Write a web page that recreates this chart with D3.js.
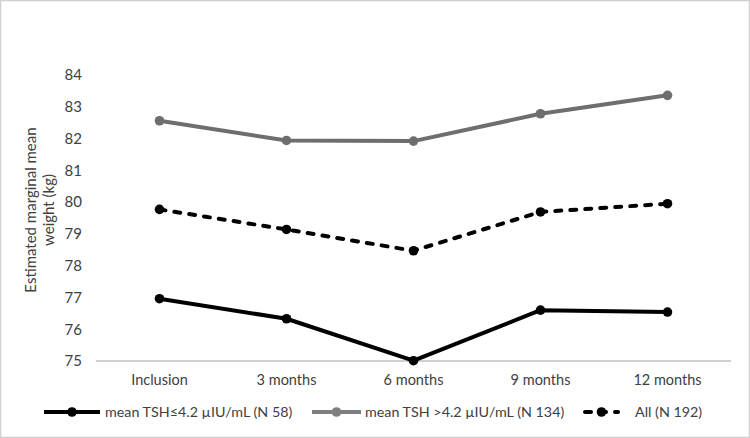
<!DOCTYPE html>
<html><head><meta charset="utf-8">
<script src="https://cdn.jsdelivr.net/npm/d3@7"></script>
<style>body{margin:0;background:#fff}text{font-family:Lato,"Open Sans",sans-serif}</style>
</head><body><svg id="c" width="750" height="438"></svg>
<script>
const categories = ["Inclusion","3 months","6 months","9 months","12 months"];
const lowTSH = [76.96, 76.33, 75.01, 76.60, 76.54];
const highTSH = [82.56, 81.94, 81.92, 82.78, 83.36];
const allPatients = [79.77, 79.14, 78.47, 79.69, 79.95];
const yTicks = [75,76,77,78,79,80,81,82,83,84];
const seriesNames = ["mean TSH≤4.2 µIU/mL (N 58)","mean TSH >4.2 µIU/mL (N 134)","All (N 192)"];

const svg = d3.select("#c");
svg.append("rect").attr("x",0.5).attr("y",0.5).attr("width",749).attr("height",437)
  .attr("fill","#fff").attr("stroke","#d0d0d0").attr("stroke-width",1.5);

const x = d3.scaleBand().domain(categories).range([96,731]);
const y = d3.scaleLinear().domain([75,84]).range([361,75]);

svg.append("line").attr("x1",96).attr("x2",731).attr("y1",y(75)).attr("y2",y(75))
  .attr("stroke","#bfbfbf").attr("stroke-width",1.3);

const yAxis = svg.append("g").attr("transform","translate(88,0)")
  .call(d3.axisLeft(y).tickValues(yTicks).tickSize(0).tickPadding(6).tickFormat(d3.format("d")));
yAxis.select(".domain").remove();
yAxis.selectAll("text").attr("font-size",15).attr("fill","#404040").attr("font-family","Lato, sans-serif");

const xAxis = svg.append("g").attr("transform","translate(0,"+y(75)+")")
  .call(d3.axisBottom(x).tickSize(0).tickPadding(14));
xAxis.select(".domain").remove();
xAxis.selectAll("text").attr("font-size",14.5).attr("fill","#404040").attr("font-family","Lato, sans-serif");

const title = svg.append("text").attr("transform","translate(36,210) rotate(-90)")
  .attr("text-anchor","middle").attr("font-size",15).attr("fill","#404040");
title.append("tspan").attr("x",0).attr("dy",0).text("Estimated marginal mean");
title.append("tspan").attr("x",0).attr("dy",18).text("weight (kg)");

const series = [
  {name:seriesNames[0], vals:lowTSH, color:"#000000", dash:null},
  {name:seriesNames[1], vals:highTSH, color:"#6e6e6e", dash:null},
  {name:seriesNames[2], vals:allPatients, color:"#000000", dash:"6,9"}
];
const line = d3.line().x((d,i)=>x(categories[i])+x.bandwidth()/2).y(d=>y(d));
series.forEach(s=>{
  svg.append("path").datum(s.vals).attr("d",line).attr("fill","none")
    .attr("stroke",s.color).attr("stroke-width",4)
    .attr("stroke-linecap",s.dash?"round":"butt").attr("stroke-linejoin","round")
    .attr("stroke-dasharray",s.dash);
  svg.selectAll(null).data(s.vals).enter().append("circle")
    .attr("cx",(d,i)=>x(categories[i])+x.bandwidth()/2).attr("cy",d=>y(d))
    .attr("r",4.8).attr("fill",s.color);
});

const leg = [
  {x1:44,x2:100,tx:105, s:series[0]},
  {x1:312,x2:361,tx:365, s:series[1]},
  {x1:585,x2:618,tx:635, s:series[2]}
];
const ly = 412;
leg.forEach(l=>{
  svg.append("line").attr("x1",l.x1).attr("x2",l.x2).attr("y1",ly).attr("y2",ly)
    .attr("stroke",l.s.color === "#6e6e6e" ? "#7f7f7f" : l.s.color).attr("stroke-width",4)
    .attr("stroke-linecap",l.s.dash?"round":"butt")
    .attr("stroke-dasharray",l.s.dash?"6,9":null);
  svg.append("circle").attr("cx",(l.x1+l.x2)/2).attr("cy",ly).attr("r",4.8)
    .attr("fill",l.s.color === "#6e6e6e" ? "#7f7f7f" : l.s.color);
  svg.append("text").attr("x",l.tx).attr("y",ly).attr("dy","0.35em")
    .attr("font-size",14.3).attr("fill","#404040").text(l.s.name);
});
</script></body></html>
